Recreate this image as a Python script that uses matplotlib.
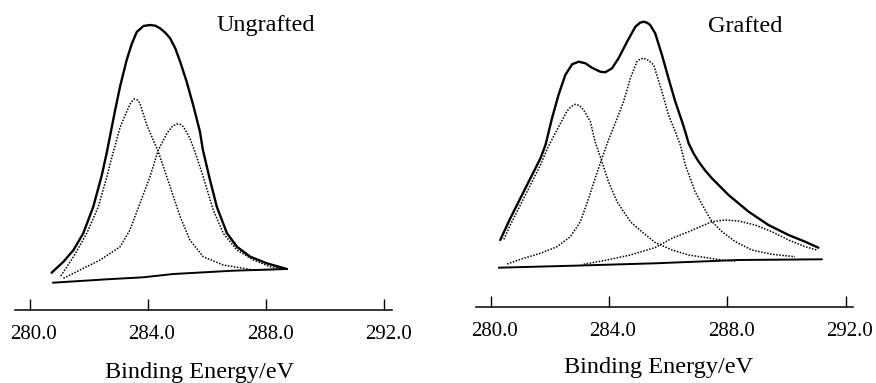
import numpy as np
import matplotlib
matplotlib.use("Agg")
import matplotlib.pyplot as plt
from matplotlib.transforms import ScaledTranslation

plt.rcParams["font.family"] = ["Liberation Serif", "DejaVu Serif"]

# ---- Ungrafted: binding energy (eV) / intensity (a.u.) ----
ung_env_x = [280.74, 281.14, 281.48, 281.81, 282.15, 282.44, 282.61, 282.89, 283.06,
             283.28, 283.45, 283.62, 283.85, 284.07, 284.25, 284.41, 284.58, 284.75,
             284.92, 285.09, 285.31, 285.53, 285.76, 285.86, 286.10, 286.33, 286.67,
             287.01, 287.46, 288.02, 288.70]
ung_env_y = [37.3, 48.3, 60, 76.7, 103.3, 135, 158, 200, 224,
             250, 266, 278, 284, 285, 284.3, 281.7, 277.5, 271.7,
             262, 248.3, 228.3, 205, 178.3, 160, 130, 103.3, 77,
             63.3, 53.3, 46.7, 41]
ung_c1_x = [281.05, 281.48, 281.93, 282.32, 282.61, 282.78, 283.06, 283.28, 283.42,
            283.54, 283.65, 283.73, 283.96, 284.35, 284.75, 285.09, 285.42, 285.87,
            286.55, 287.57, 288.70]
ung_c1_y = [34, 53.3, 76.7, 103.3, 133.3, 153, 183, 198.3, 207.5,
            211, 210, 206.7, 185, 158.3, 123.3, 93.3, 70, 53.3,
            45, 40, 41]
ung_c2_x = [281.14, 281.70, 282.38, 283.06, 283.39, 283.73, 284.07, 284.35, 284.65,
            284.82, 284.97, 285.10, 285.20, 285.42, 285.59, 285.87, 286.21, 286.55,
            287.01, 287.57, 288.13, 288.70]
ung_c2_y = [31.7, 40, 50, 63.3, 80, 106.7, 133.3, 160, 177,
            183.5, 186, 185.5, 183.3, 171.7, 158.3, 133.3, 100, 76.7,
            60, 50, 43.3, 41]
ung_bg_x = [280.78, 282.61, 283.84, 284.86, 286.88, 288.70]
ung_bg_y = [27.3, 30.7, 32.7, 36, 39.3, 41]

# ---- Grafted ----
gr_env_x = [280.32, 280.66, 281.00, 281.34, 281.68, 281.85, 282.07, 282.29, 282.52,
            282.75, 282.97, 283.20, 283.42, 283.70, 283.87, 284.10, 284.32, 284.61,
            284.89, 285.05, 285.17, 285.29, 285.39, 285.56, 285.79, 286.01, 286.24,
            286.47, 286.58, 286.69, 286.86, 287.03, 287.25, 287.48, 288.04, 288.72,
            289.39, 290.07, 290.63, 291.08]
gr_env_y = [67, 88.7, 108.7, 128.7, 148.7, 162, 188.7, 212, 232,
            242.7, 245.3, 243.7, 239.3, 235.3, 234.7, 238.7, 248.7, 265.3,
            280.3, 284.3, 285.3, 284.2, 282, 273.7, 252, 228.7, 205.3,
            185.3, 175, 163.7, 153.5, 145.3, 136.5, 128.7, 112, 95.3,
            82, 72, 65.3, 59.3]
gr_ca_x = [280.44, 280.66, 281.00, 281.34, 281.68, 281.92, 282.29, 282.58, 282.72,
           282.86, 283.00, 283.14, 283.37, 283.53, 283.76, 283.98, 284.27, 284.72,
           285.17, 285.56, 286.13, 286.69, 287.82, 288.27]
gr_ca_y = [67.7, 82, 102, 122, 142, 159, 180, 196, 200.5,
           202.7, 201.5, 197, 185.3, 165, 145.3, 125.3, 105.3, 85.3,
           73.7, 64.5, 57, 52, 47, 46]
gr_cb_x = [280.55, 281.11, 281.68, 282.24, 282.69, 283.03, 283.31, 283.53, 283.76,
           283.98, 284.21, 284.49, 284.72, 284.94, 285.05, 285.17, 285.34, 285.51,
           285.79, 286.01, 286.24, 286.41, 286.58, 286.91, 287.25, 287.48, 287.82,
           288.27, 288.83, 289.51, 290.29]
gr_cb_y = [43, 48.7, 53.7, 60.3, 70.3, 85.3, 108.7, 128.7, 148.7,
           167, 184, 205.3, 228.7, 245.3, 248, 248.7, 246.5, 242,
           215.3, 192, 175.3, 162, 142, 115.3, 97, 85.3, 75.3,
           65.3, 57, 52.7, 50.3]
gr_cc_x = [283.14, 283.93, 284.72, 285.56, 286.13, 286.69, 287.48, 287.93, 288.38,
           288.94, 289.51, 290.07, 290.63, 291.03]
gr_cc_y = [42.7, 47, 52, 59.5, 68.7, 75.3, 85.3, 87, 86,
           82, 75.3, 67, 60.3, 57]
gr_bg_x = [280.27, 282.80, 285.56, 288.38, 291.20]
gr_bg_y = [39.3, 41.3, 43.7, 47, 47.7]

ticks = [280.0, 284.0, 288.0, 292.0]
tick_labels = ["280.0", "284.0", "288.0", "292.0"]

W, H = 876, 383
fig = plt.figure(figsize=(W / 100, H / 100), dpi=100)
ax1 = fig.add_axes([15 / W, 73 / H, 377 / W, 300 / H])
ax2 = fig.add_axes([476 / W, 76 / H, 377.3 / W, 300 / H])

dot = (0, (1, 1.0))
panels = [
    (ax1, "Ungrafted", (0.666, 0.93), (0.4907, -0.226),
     [(ung_env_x, ung_env_y, "-", 1.7), (ung_bg_x, ung_bg_y, "-", 1.4),
      (ung_c1_x, ung_c1_y, dot, 1.1), (ung_c2_x, ung_c2_y, dot, 1.1)]),
    (ax2, "Grafted", (0.714, 0.917), (0.485, -0.22),
     [(gr_env_x, gr_env_y, "-", 1.7), (gr_bg_x, gr_bg_y, "-", 1.4),
      (gr_ca_x, gr_ca_y, dot, 1.1), (gr_cb_x, gr_cb_y, dot, 1.1),
      (gr_cc_x, gr_cc_y, dot, 1.1)]),
]

for ax, title, tpos, lpos, curves in panels:
    for x, y, ls, lw in curves:
        ax.plot(x, y, color="black", linestyle=ls, lw=lw,
                solid_joinstyle="round", solid_capstyle="round")
    ax.set_xlim(279.5, 292.26)
    ax.set_ylim(0, 300)
    for s in ("top", "left", "right"):
        ax.spines[s].set_visible(False)
    ax.spines["bottom"].set_linewidth(1.1)
    ax.set_yticks([])
    ax.set_xticks(ticks)
    ax.set_xticklabels(tick_labels)
    ax.tick_params(axis="x", direction="in", length=8, width=1.0, pad=11,
                   labelsize=15, colors="black")
    for lab in ax.get_xticklabels():
        lab.set_transform(lab.get_transform() + ScaledTranslation(0.04, 0, fig.dpi_scale_trans))
    ax.text(tpos[0], tpos[1], title, transform=ax.transAxes, ha="center",
            va="baseline", fontsize=17.5)
    ax.set_xlabel("Binding Energy/eV", fontsize=17.5)
    ax.xaxis.label.set_va("baseline")
    ax.xaxis.set_label_coords(*lpos)
    ax.patch.set_visible(False)

fig.savefig("out.png", dpi=100, facecolor="white")
